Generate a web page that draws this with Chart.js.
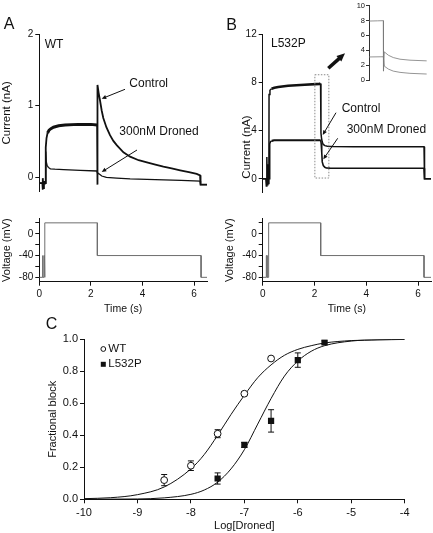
<!DOCTYPE html>
<html>
<head>
<meta charset="utf-8">
<title>Droned block of WT and L532P currents</title>
<script src="https://cdn.jsdelivr.net/npm/chart.js@4.4.1/dist/chart.umd.min.js"></script>
<style>
  body { margin: 0; background: #fff; }
  #page { position: relative; width: 433px; height: 533px; background: #fff; overflow: hidden; }
  #page canvas { position: absolute; }
</style>
</head>
<body>
<div id="page">
  <canvas id="aCurrent" width="215" height="200" style="left:0;top:0"></canvas>
  <canvas id="aVoltage" width="215" height="115" style="left:0;top:200px"></canvas>
  <canvas id="bCurrent" width="218" height="200" style="left:215px;top:0"></canvas>
  <canvas id="bVoltage" width="218" height="115" style="left:215px;top:200px"></canvas>
  <canvas id="bInset" width="93" height="88" style="left:340px;top:0"></canvas>
  <canvas id="doseResponse" width="433" height="218" style="left:0;top:315px"></canvas>
</div>
<script>
const FONT = '"Liberation Sans", Arial, Helvetica, sans-serif';
const INK = "#111";
const GREY = "#6e6e6e";

// panel A (WT) current traces: time (s), current (nA)
const aCtrlTime = [0, 0.12, 0.13, 0.14, 0.16, 0.18, 0.2, 0.24, 0.25, 0.28, 0.32, 0.38, 0.45, 0.55, 0.75, 1.0, 1.5, 2.0, 2.24, 2.25, 2.26, 2.3, 2.35, 2.42, 2.48, 2.6, 2.74, 2.87, 3.0, 3.26, 3.52, 3.85, 4.17, 4.5, 4.81, 5.13, 5.46, 5.8, 6.1, 6.23, 6.25, 6.5];
const aCtrlCurrent = [-0.08, -0.08, -0.17, -0.01, -0.15, -0.05, -0.09, -0.08, 0.42, 0.55, 0.62, 0.66, 0.68, 0.70, 0.72, 0.73, 0.74, 0.74, 0.73, -0.1, 1.29, 1.18, 1.08, 0.93, 0.83, 0.70, 0.59, 0.51, 0.45, 0.35, 0.29, 0.24, 0.21, 0.18, 0.15, 0.125, 0.10, 0.075, 0.05, 0.03, -0.1, -0.1];
const aDrugTime = [0, 0.24, 0.25, 0.27, 0.3, 0.35, 0.43, 0.6, 0.94, 1.59, 2.23, 2.25, 2.27, 2.35, 2.42, 2.6, 3.0, 3.52, 4.5, 5.5, 6.23, 6.25, 6.5];
const aDrugCurrent = [-0.08, -0.08, 0.36, 0.22, 0.17, 0.14, 0.12, 0.115, 0.11, 0.10, 0.09, 0.065, 0.06, 0.04, 0.02, 0.0, -0.01, -0.02, -0.03, -0.04, -0.05, -0.1, -0.1];

// panel B (L532P) current traces
const bCtrlTime = [0, 0.12, 0.14, 0.16, 0.18, 0.2, 0.22, 0.24, 0.245, 0.28, 0.34, 0.45, 0.6, 0.98, 1.62, 2.2, 2.235, 2.25, 2.27, 2.3, 2.34, 2.4, 2.5, 2.7, 3.5, 6.23, 6.25, 6.5];
const bCtrlCurrent = [0, 0, -0.6, 1.8, -0.5, 1.2, -0.4, 0, 7.0, 7.35, 7.48, 7.56, 7.62, 7.73, 7.81, 7.88, 7.92, 3.8, 3.4, 3.05, 2.85, 2.75, 2.7, 2.67, 2.66, 2.65, 0, 0];
const bDrugTime = [0, 0.26, 0.27, 0.3, 0.35, 0.44, 1.0, 2.0, 2.24, 2.26, 2.28, 2.3, 2.34, 2.4, 2.46, 2.6, 3.5, 6.23, 6.25, 6.5];
const bDrugCurrent = [0, 0, 2.9, 3.08, 3.15, 3.2, 3.2, 3.2, 3.2, 2.9, 2.2, 1.4, 1.1, 0.95, 0.9, 0.88, 0.87, 0.87, 0, 0];

// inset: tail currents around the step
const insetCtrlTime = [2.15, 2.2, 2.235, 2.236, 2.241, 2.265, 2.294, 2.334, 2.393, 2.492];
const insetCtrlCurrent = [7.92, 7.95, 7.97, 1.23, 3.8, 3.35, 3.04, 2.82, 2.69, 2.6];
const insetDrugTime = [2.15, 2.235, 2.241, 2.265, 2.294, 2.334, 2.393, 2.492];
const insetDrugCurrent = [3.12, 3.15, 1.89, 1.5, 1.23, 1.06, 0.93, 0.84];

// voltage protocols (mV)
const aVoltTime = [0, 0.12, 0.12, 0.14, 0.14, 0.18, 0.18, 0.2, 0.2, 0.22, 0.22, 2.25, 2.25, 6.27, 6.27, 6.5];
const aVoltage = [-80, -80, -40, -40, -80, -80, -40, -40, -80, -80, 20, 20, -40, -40, -80, -80];
const bVoltTime = [0, 0.14, 0.14, 0.17, 0.17, 0.23, 0.23, 2.24, 2.24, 6.23, 6.23, 6.5];
const bVoltage = [-80, -80, -40, -40, -80, -80, 20, 20, -40, -40, -80, -80];

// panel C: fractional block vs log concentration
const wtLogConc = [-8.5, -8, -7.5, -7, -6.5];
const wtBlock = [0.12, 0.21, 0.41, 0.66, 0.88];
const wtError = [0.035, 0.03, 0.025, 0.012, 0.01];
const mutLogConc = [-7.5, -7, -6.5, -6, -5.5];
const mutBlock = [0.13, 0.34, 0.49, 0.87, 0.98];
const mutError = [0.035, 0.015, 0.07, 0.045, 0.01];
const fitLogConc = [-10, -9.5, -9, -8.5, -8, -7.75, -7.5, -7.25, -7, -6.75, -6.5, -6.25, -6, -5.75, -5.5, -5, -4.5, -4];
const wtFit = [0.004, 0.010, 0.029, 0.077, 0.19, 0.28, 0.40, 0.53, 0.65, 0.76, 0.84, 0.90, 0.937, 0.96, 0.977, 0.992, 0.997, 0.999];
const mutFit = [0.0, 0.001, 0.002, 0.009, 0.031, 0.058, 0.107, 0.19, 0.31, 0.47, 0.63, 0.77, 0.864, 0.925, 0.96, 0.989, 0.997, 0.999];

// tick values
const aCurrentTicks = [0, 1, 2];
const bCurrentTicks = [0, 4, 8, 12];
const insetTicks = [0, 2, 4, 6, 8, 10];
const voltageTicks = [-80, -60, -40, -20, 0, 20];
const timeTicks = [0, 2, 4, 6];
const logTicks = [-10, -9, -8, -7, -6, -5, -4];
const blockTicks = [0, 0.2, 0.4, 0.6, 0.8, 1.0];

// dotted region of panel B that the inset enlarges (s, nA)
const zoomBox = { t0: 2.015, t1: 2.555, i0: 0.06, i1: 8.64 };

Chart.defaults.font.family = FONT;

const pts = (xs, ys) => xs.map((x, i) => ({ x: x, y: ys[i] }));

const trace = (xs, ys, color, width, thick) => {
  const ds = {
    data: pts(xs, ys),
    borderColor: color,
    borderWidth: width,
    pointRadius: 0,
    tension: 0,
    fill: false,
  };
  if (thick) {
    // noisy plateau is drawn thicker
    ds.segment = {
      borderWidth: (ctx) =>
        ctx.p0.parsed.x >= thick[0] && ctx.p1.parsed.x <= thick[1] ? thick[2] : width,
    };
  }
  return ds;
};

function drawArrow(c, a) {
  const ang = Math.atan2(a.y2 - a.y1, a.x2 - a.x1);
  const h = a.head || 5;
  c.strokeStyle = INK;
  c.fillStyle = INK;
  c.lineWidth = a.w || 1;
  c.beginPath();
  c.moveTo(a.x1, a.y1);
  c.lineTo(a.x2 - Math.cos(ang) * h * 0.8, a.y2 - Math.sin(ang) * h * 0.8);
  c.stroke();
  c.beginPath();
  c.moveTo(a.x2, a.y2);
  c.lineTo(a.x2 - h * Math.cos(ang - 0.42), a.y2 - h * Math.sin(ang - 0.42));
  c.lineTo(a.x2 - h * Math.cos(ang + 0.42), a.y2 - h * Math.sin(ang + 0.42));
  c.closePath();
  c.fill();
}

// labels, arrows, legend marks and the zoom box
const notesPlugin = {
  id: "notes",
  afterDraw(chart, args, opts) {
    const c = chart.ctx;
    c.save();
    if (opts.box) {
      const { x, y } = chart.scales;
      const b = opts.box;
      const left = x.getPixelForValue(b.t0);
      const right = x.getPixelForValue(b.t1);
      const top = y.getPixelForValue(b.i1);
      const bottom = y.getPixelForValue(b.i0);
      c.setLineDash([1.5, 1.5]);
      c.strokeStyle = "#8a8a8a";
      c.lineWidth = 1;
      c.strokeRect(left, top, right - left, bottom - top);
      c.setLineDash([]);
    }
    (opts.texts || []).forEach((t) => {
      c.font = `${t.size || 12}px ${FONT}`;
      c.fillStyle = INK;
      c.textAlign = t.align || "left";
      c.textBaseline = "middle";
      if (t.rot) {
        c.save();
        c.translate(t.x, t.y);
        c.rotate(t.rot);
        c.fillText(t.text, 0, 0);
        c.restore();
      } else {
        c.fillText(t.text, t.x, t.y);
      }
    });
    (opts.arrows || []).forEach((a) => drawArrow(c, a));
    (opts.marks || []).forEach((m) => {
      c.lineWidth = 1;
      c.strokeStyle = INK;
      c.fillStyle = INK;
      if (m.shape === "circle") {
        c.beginPath();
        c.arc(m.x, m.y, m.r, 0, Math.PI * 2);
        c.stroke();
      } else {
        c.fillRect(m.x - m.r, m.y - m.r, m.r * 2, m.r * 2);
      }
    });
    c.restore();
  },
};

// vertical error bars under the points of panel C
const errorBars = {
  id: "errorBars",
  beforeDatasetsDraw(chart) {
    const { ctx, scales } = chart;
    ctx.save();
    ctx.strokeStyle = INK;
    ctx.lineWidth = 1;
    chart.data.datasets.forEach((ds) => {
      if (!ds.errors) return;
      ds.data.forEach((p, i) => {
        const px = scales.x.getPixelForValue(p.x);
        const top = scales.y.getPixelForValue(p.y + ds.errors[i]);
        const bot = scales.y.getPixelForValue(p.y - ds.errors[i]);
        ctx.beginPath();
        ctx.moveTo(px, top);
        ctx.lineTo(px, bot);
        ctx.moveTo(px - 3, top);
        ctx.lineTo(px + 3, top);
        ctx.moveTo(px - 3, bot);
        ctx.lineTo(px + 3, bot);
        ctx.stroke();
      });
    });
    ctx.restore();
  },
};

function linAxis(o) {
  return {
    type: "linear",
    display: o.display !== false,
    min: o.min,
    max: o.max,
    afterFit: (s) => {
      if (o.width !== undefined) s.width = o.width;
      if (o.height !== undefined) s.height = o.height;
    },
    afterBuildTicks: (s) => {
      if (o.ticks) s.ticks = o.ticks.map((v) => ({ value: v }));
    },
    grid: { drawOnChartArea: false, color: o.color || INK, tickLength: o.tickLength || 4 },
    border: { display: true, color: o.color || INK, width: 1 },
    ticks: {
      color: INK,
      font: { family: FONT, size: o.font || 10 },
      padding: o.pad === undefined ? 2 : o.pad,
      maxRotation: 0,
      autoSkip: false,
      maxTicksLimit: 40,
      callback: o.label || ((v) => String(v)),
    },
    title: o.title
      ? {
          display: true,
          text: o.title,
          color: INK,
          font: { family: FONT, size: o.titleSize || 11 },
          padding: { top: o.titlePad || 0, bottom: 0 },
        }
      : { display: false },
  };
}

function baseOptions(padding, scales, notes) {
  return {
    responsive: false,
    animation: false,
    devicePixelRatio: 1,
    events: [],
    layout: { padding: padding },
    plugins: {
      legend: { display: false },
      tooltip: { enabled: false },
      notes: notes || {},
    },
    scales: scales,
  };
}

const voltLabel = (v) => (v % 40 === 0 ? String(v) : "");

// ---- A: WT currents
new Chart(document.getElementById("aCurrent"), {
  type: "line",
  data: {
    datasets: [
      trace(aDrugTime, aDrugCurrent, INK, 1.3),
      trace(aCtrlTime, aCtrlCurrent, INK, 1.8, [0.3, 2.24, 3]),
    ],
  },
  options: baseOptions(
    { left: 0, top: 34, right: 8, bottom: 8.2 },
    {
      x: linAxis({ display: false, min: 0, max: 6.5 }),
      y: linAxis({ min: -0.2, max: 2, width: 39.3, ticks: aCurrentTicks, title: "Current (nA)", titleSize: 11.5 }),
    },
    {
      texts: [
        { text: "A", x: 9.2, y: 25, size: 16, align: "center" },
        { text: "WT", x: 44.7, y: 45 },
        { text: "Control", x: 129.3, y: 84 },
        { text: "300nM Droned", x: 119.3, y: 131.7 },
      ],
      arrows: [
        { x1: 125, y1: 89.3, x2: 101.7, y2: 98.7 },
        { x1: 137, y1: 150, x2: 101.7, y2: 172 },
      ],
    }
  ),
  plugins: [notesPlugin],
});

// ---- A: voltage protocol
new Chart(document.getElementById("aVoltage"), {
  type: "line",
  data: { datasets: [trace(aVoltTime, aVoltage, GREY, 1)] },
  options: baseOptions(
    { left: 0, top: 18.5, right: 8, bottom: 0 },
    {
      x: linAxis({ min: 0, max: 6.5, height: 33.3, ticks: timeTicks, title: "Time (s)", titleSize: 10.5, pad: 3 }),
      y: linAxis({ min: -88, max: 28, width: 39.3, ticks: voltageTicks, label: voltLabel, title: "Voltage (mV)", titleSize: 11 }),
    }
  ),
  plugins: [notesPlugin],
});

// ---- B: L532P currents
new Chart(document.getElementById("bCurrent"), {
  type: "line",
  data: {
    datasets: [
      trace(bDrugTime, bDrugCurrent, INK, 1.6, [0.35, 2.24, 2.2]),
      trace(bCtrlTime, bCtrlCurrent, INK, 1.5, [0.3, 2.24, 2.6]),
    ],
  },
  options: baseOptions(
    { left: 0, top: 34.3, right: 2, bottom: 6.6 },
    {
      x: linAxis({ display: false, min: 0, max: 6.5 }),
      y: linAxis({ min: -1.1, max: 12, width: 47.7, ticks: bCurrentTicks }),
    },
    {
      box: zoomBox,
      texts: [
        { text: "B", x: 16.7, y: 26, size: 16, align: "center" },
        { text: "L532P", x: 56, y: 43.3 },
        { text: "Control", x: 126.7, y: 109 },
        { text: "300nM Droned", x: 131.7, y: 130 },
        { text: "Current (nA)", x: 31.7, y: 147, size: 11.5, align: "center", rot: -Math.PI / 2 },
      ],
      arrows: [
        { x1: 121, y1: 112.7, x2: 107.7, y2: 135 },
        { x1: 122.7, y1: 138.3, x2: 108.3, y2: 159.3 },
        { x1: 113.3, y1: 68.3, x2: 130, y2: 53.3, w: 3.5, head: 9 },
      ],
    }
  ),
  plugins: [notesPlugin],
});

// ---- B: voltage protocol
new Chart(document.getElementById("bVoltage"), {
  type: "line",
  data: { datasets: [trace(bVoltTime, bVoltage, GREY, 1)] },
  options: baseOptions(
    { left: 0, top: 18.5, right: 2, bottom: 0 },
    {
      x: linAxis({ min: 0, max: 6.5, height: 33.3, ticks: timeTicks, title: "Time (s)", titleSize: 10.5, pad: 3 }),
      y: linAxis({ min: -88, max: 28, width: 47.7, ticks: voltageTicks, label: voltLabel, title: "Voltage (mV)", titleSize: 11, titlePad: 8.4 }),
    }
  ),
  plugins: [notesPlugin],
});

// ---- B inset: enlarged tails
new Chart(document.getElementById("bInset"), {
  type: "line",
  data: {
    datasets: [
      trace(insetDrugTime, insetDrugCurrent, "#7a7a7a", 0.8),
      trace(insetCtrlTime, insetCtrlCurrent, "#7a7a7a", 0.8),
    ],
  },
  options: baseOptions(
    { left: 0, top: 4.7, right: 5, bottom: 7.7 },
    {
      x: linAxis({ display: false, min: 2.15, max: 2.5 }),
      y: linAxis({ min: 0, max: 10, width: 29, ticks: insetTicks, font: 7.5, tickLength: 3, pad: 1, color: "#333" }),
    }
  ),
  plugins: [notesPlugin],
});

// ---- C: dose response
new Chart(document.getElementById("doseResponse"), {
  type: "scatter",
  data: {
    datasets: [
      {
        data: pts(wtLogConc, wtBlock),
        errors: wtError,
        pointStyle: "circle",
        pointRadius: 3.4,
        pointBackgroundColor: "#fff",
        pointBorderColor: INK,
        pointBorderWidth: 1,
      },
      {
        data: pts(mutLogConc, mutBlock),
        errors: mutError,
        pointStyle: "rect",
        pointRadius: 4.4,
        pointBackgroundColor: INK,
        pointBorderColor: INK,
        pointBorderWidth: 0,
      },
      {
        data: pts(fitLogConc, wtFit),
        showLine: true,
        pointRadius: 0,
        borderColor: INK,
        borderWidth: 1,
        cubicInterpolationMode: "monotone",
      },
      {
        data: pts(fitLogConc, mutFit),
        showLine: true,
        pointRadius: 0,
        borderColor: INK,
        borderWidth: 1,
        cubicInterpolationMode: "monotone",
      },
    ],
  },
  options: baseOptions(
    { left: 40, top: 24.3, right: 28.3, bottom: 0 },
    {
      x: linAxis({ min: -10, max: -4, height: 33.7, ticks: logTicks, font: 11, pad: 3, title: "Log[Droned]", titleSize: 11 }),
      y: linAxis({ min: 0, max: 1, width: 44, ticks: blockTicks, font: 11, pad: 2, label: (v) => v.toFixed(1), title: "Fractional block", titleSize: 11, titlePad: 6.7 }),
    },
    {
      texts: [
        { text: "C", x: 51.5, y: 10, size: 16, align: "center" },
        { text: "WT", x: 108.3, y: 34, size: 11.5 },
        { text: "L532P", x: 108.3, y: 49.3, size: 11.5 },
      ],
      marks: [
        { shape: "circle", x: 103.3, y: 34, r: 2.4 },
        { shape: "square", x: 103.3, y: 49.3, r: 2.5 },
      ],
    }
  ),
  plugins: [notesPlugin, errorBars],
});
</script>
</body>
</html>
